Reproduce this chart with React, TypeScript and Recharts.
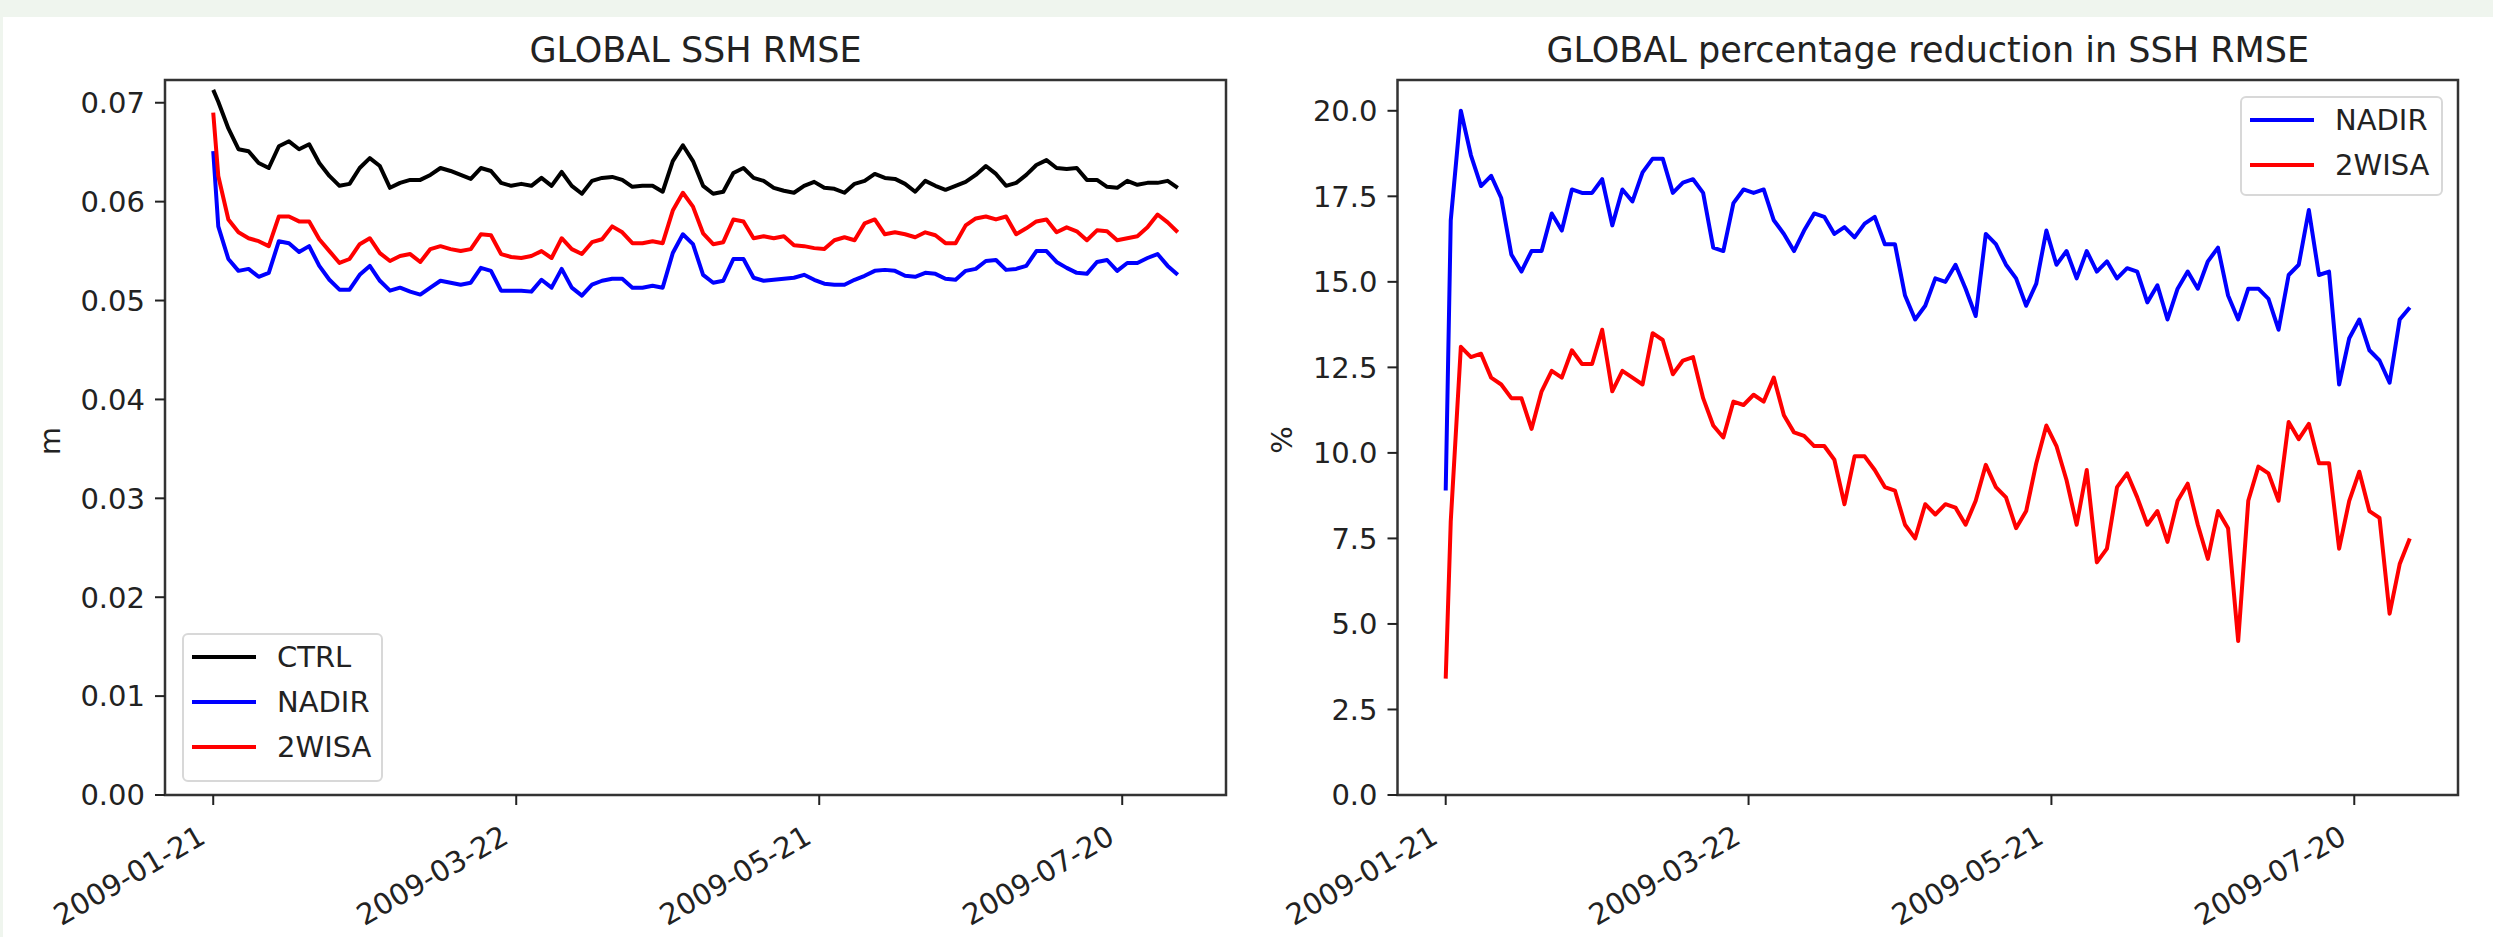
import React from "react";
import { Legend, Line, LineChart, ReferenceArea, XAxis, YAxis } from "recharts";

// day offsets from 2009-01-21 (day 0, then every second day)
const days = [
  0, 1, 3, 5, 7, 9, 11, 13, 15, 17, 19, 21, 23, 25, 27, 29, 31, 33, 35, 37, 39, 41, 43, 45, 47, 49, 51, 53, 55, 57, 59, 61, 63,
  65, 67, 69, 71, 73, 75, 77, 79, 81, 83, 85, 87, 89, 91, 93, 95, 97, 99, 101, 103, 105, 107, 109, 111, 113, 115, 117, 119, 121, 123, 125, 127,
  129, 131, 133, 135, 137, 139, 141, 143, 145, 147, 149, 151, 153, 155, 157, 159, 161, 163, 165, 167, 169, 171, 173, 175, 177, 179, 181, 183, 185, 187, 189, 191,
];

const ctrlRmse = [
  0.0713, 0.0701, 0.0674, 0.0653, 0.0651, 0.0639, 0.0634, 0.0656, 0.0661, 0.0653, 0.0658, 0.0639, 0.0626, 0.0616, 0.0618, 0.0634, 0.0644, 0.0636, 0.0614, 0.0619, 0.0622, 0.0622, 0.0627, 0.0634, 0.0631, 0.0627, 0.0623, 0.0634, 0.0631, 0.0619, 0.0616, 0.0618, 0.0616,
  0.0624, 0.0616, 0.063, 0.0616, 0.0608, 0.0621, 0.0624, 0.0625, 0.0622, 0.0615, 0.0616, 0.0616, 0.061, 0.0641, 0.0657, 0.0641, 0.0616, 0.0608, 0.061, 0.0629, 0.0634, 0.0624, 0.0621, 0.0614, 0.0611, 0.0609, 0.0616, 0.062, 0.0614, 0.0613, 0.0609, 0.0618,
  0.0621, 0.0628, 0.0624, 0.0623, 0.0618, 0.061, 0.0621, 0.0616, 0.0612, 0.0616, 0.062, 0.0627, 0.0636, 0.0628, 0.0616, 0.0619, 0.0627, 0.0637, 0.0642, 0.0634, 0.0633, 0.0634, 0.0622, 0.0622, 0.0615, 0.0614, 0.0621, 0.0617, 0.0619, 0.0619, 0.0621, 0.0614,
];

const nadirRmse = [
  0.0651, 0.0575, 0.0542, 0.053, 0.0532, 0.0524, 0.0528, 0.056, 0.0558, 0.0549, 0.0555, 0.0535, 0.0521, 0.0511, 0.0511, 0.0526, 0.0535, 0.052, 0.051, 0.0513, 0.0509, 0.0506, 0.0513, 0.052, 0.0518, 0.0516, 0.0518, 0.0533, 0.053, 0.051, 0.051, 0.051, 0.0509,
  0.0521, 0.0513, 0.0532, 0.0513, 0.0505, 0.0516, 0.052, 0.0522, 0.0522, 0.0513, 0.0513, 0.0515, 0.0513, 0.0548, 0.0567, 0.0557, 0.0526, 0.0518, 0.052, 0.0542, 0.0542, 0.0523, 0.052, 0.0521, 0.0522, 0.0523, 0.0526, 0.0521, 0.0517, 0.0516, 0.0516, 0.0521,
  0.0525, 0.053, 0.0531, 0.053, 0.0525, 0.0524, 0.0528, 0.0527, 0.0522, 0.0521, 0.053, 0.0532, 0.054, 0.0541, 0.0531, 0.0532, 0.0535, 0.055, 0.055, 0.0539, 0.0533, 0.0528, 0.0527, 0.0539, 0.0541, 0.053, 0.0538, 0.0538, 0.0543, 0.0547, 0.0535, 0.0526,
];

const wisaRmse = [
  0.069, 0.0626, 0.0582, 0.0569, 0.0563, 0.056, 0.0555, 0.0585, 0.0585, 0.058, 0.058, 0.0562, 0.055, 0.0538, 0.0542, 0.0557, 0.0563, 0.0548, 0.054, 0.0545, 0.0547, 0.0539, 0.0552, 0.0555, 0.0552, 0.055, 0.0552, 0.0567, 0.0566, 0.0547, 0.0544, 0.0543, 0.0545,
  0.055, 0.0543, 0.0563, 0.0552, 0.0547, 0.0559, 0.0562, 0.0575, 0.0569, 0.0558, 0.0558, 0.056, 0.0558, 0.0591, 0.0609, 0.0595, 0.0568, 0.0557, 0.0559, 0.0582, 0.058, 0.0563, 0.0565, 0.0563, 0.0565, 0.0556, 0.0555, 0.0553, 0.0552, 0.0561, 0.0564, 0.0561,
  0.0578, 0.0582, 0.0567, 0.0569, 0.0567, 0.0564, 0.0569, 0.0566, 0.0558, 0.0558, 0.0576, 0.0583, 0.0585, 0.0582, 0.0585, 0.0567, 0.0573, 0.058, 0.0582, 0.0569, 0.0574, 0.057, 0.0561, 0.0571, 0.057, 0.0561, 0.0563, 0.0565, 0.0574, 0.0587, 0.0579, 0.0569,
];

const nadirReduction = [
  8.9, 16.8, 20.0, 18.7, 17.8, 18.1, 17.45, 15.8, 15.3, 15.9, 15.9, 17.0, 16.5, 17.7, 17.6, 17.6, 18.0, 16.65, 17.7, 17.35, 18.2, 18.6, 18.6, 17.6, 17.9, 18.0, 17.6, 16.0, 15.9, 17.3, 17.7, 17.6, 17.7,
  16.8, 16.4, 15.9, 16.5, 17.0, 16.9, 16.4, 16.6, 16.3, 16.7, 16.9, 16.1, 16.1, 14.6, 13.9, 14.3, 15.1, 15.0, 15.5, 14.8, 14.0, 16.4, 16.1, 15.5, 15.1, 14.3, 14.95, 16.5, 15.5, 15.9, 15.1, 15.9,
  15.3, 15.6, 15.1, 15.4, 15.3, 14.4, 14.9, 13.9, 14.8, 15.3, 14.8, 15.6, 16.0, 14.6, 13.9, 14.8, 14.8, 14.5, 13.6, 15.2, 15.5, 17.1, 15.2, 15.3, 12.0, 13.35, 13.9, 13.0, 12.7, 12.05, 13.9, 14.25,
];

const wisaReduction = [
  3.4, 8.0, 13.1, 12.8, 12.9, 12.2, 12.0, 11.6, 11.6, 10.7, 11.8, 12.4, 12.2, 13.0, 12.6, 12.6, 13.6, 11.8, 12.4, 12.2, 12.0, 13.5, 13.3, 12.3, 12.7, 12.8, 11.6, 10.8, 10.45, 11.5, 11.4, 11.7, 11.5,
  12.2, 11.1, 10.6, 10.5, 10.2, 10.2, 9.8, 8.5, 9.9, 9.9, 9.5, 9.0, 8.9, 7.9, 7.5, 8.5, 8.2, 8.5, 8.4, 7.9, 8.6, 9.65, 9.0, 8.7, 7.8, 8.3, 9.7, 10.8, 10.2, 9.2, 7.9, 9.5,
  6.8, 7.2, 9.0, 9.4, 8.7, 7.9, 8.3, 7.4, 8.6, 9.1, 7.9, 6.9, 8.3, 7.8, 4.5, 8.6, 9.6, 9.4, 8.6, 10.9, 10.4, 10.85, 9.7, 9.7, 7.2, 8.6, 9.45, 8.3, 8.1, 5.3, 6.75, 7.5,
];

const dateTicks = [0, 60, 120, 180];
const dateLabels = ["2009-01-21", "2009-03-22", "2009-05-21", "2009-07-20"];
const rmseTicks = [0, 0.01, 0.02, 0.03, 0.04, 0.05, 0.06, 0.07];
const pctTicks = [0, 2.5, 5, 7.5, 10, 12.5, 15, 17.5, 20];

const rmseData = days.map((day, i) => ({
  day,
  ctrl: ctrlRmse[i],
  nadir: nadirRmse[i],
  wisa: wisaRmse[i],
}));

const pctData = days.map((day, i) => ({
  day,
  nadir: nadirReduction[i],
  wisa: wisaReduction[i],
}));

const rmseSeries = [
  { key: "ctrl", name: "CTRL", color: "#000000" },
  { key: "nadir", name: "NADIR", color: "#0000ff" },
  { key: "wisa", name: "2WISA", color: "#ff0000" },
];
const pctSeries = [
  { key: "nadir", name: "NADIR", color: "#0000ff" },
  { key: "wisa", name: "2WISA", color: "#ff0000" },
];

const FONT = "DejaVu Sans";
const TEXT = "#222";
const SPINE = { stroke: "#333", strokeWidth: 2.5 };
const xDomain = [-9.55, 200.55];
const rmseTop = 0.0723;
const pctTop = 20.9;

const DateTick = (props: any) => {
  const { x, y, payload } = props;
  const ax = x - 6;
  const ay = y + 37;
  return (
    <text
      x={ax}
      y={ay}
      transform={`rotate(-30 ${ax} ${ay})`}
      textAnchor="end"
      fontSize={29}
      fill={TEXT}
      fontFamily={FONT}
    >
      {dateLabels[dateTicks.indexOf(payload.value)]}
    </text>
  );
};

const legendBox = (series: typeof rmseSeries, width: number, height: number) => () => (
  <div
    style={{
      width,
      height,
      boxSizing: "border-box",
      border: "2px solid #d8d8d8",
      borderRadius: 6,
      background: "rgba(255,255,255,0.85)",
      position: "relative",
      fontFamily: FONT,
    }}
  >
    {series.map((s, i) => (
      <div
        key={s.key}
        style={{
          position: "absolute",
          left: 8,
          top: 22 + i * 45 - 18,
          height: 36,
          display: "flex",
          alignItems: "center",
        }}
      >
        <div style={{ width: 64, height: 4, background: s.color }} />
        <span style={{ marginLeft: 21, fontSize: 29, color: TEXT, lineHeight: "36px" }}>{s.name}</span>
      </div>
    ))}
  </div>
);

const App = () => {
  return (
    <div
      style={{
        position: "absolute",
        left: 0,
        top: 0,
        width: 2493,
        height: 937,
        background: "#fff",
        fontFamily: FONT,
        overflow: "hidden",
      }}
    >
      <div style={{ position: "absolute", left: 0, top: 0, width: 2493, height: 17, background: "#eff5ee" }} />
      <div style={{ position: "absolute", left: 0, top: 0, width: 3, height: 937, background: "#eff5ee" }} />

      {/* left panel */}
      <div style={{ position: "absolute", left: 0, top: 0 }}>
        <div
          style={{
            position: "absolute",
            left: 165,
            width: 1061,
            top: 33,
            textAlign: "center",
            fontSize: 35,
            lineHeight: "35px",
            color: TEXT,
          }}
        >
          GLOBAL SSH RMSE
        </div>
        <div
          style={{
            position: "absolute",
            left: 50,
            top: 441,
            transform: "translate(-50%, -50%) rotate(-90deg)",
            fontSize: 29,
            color: TEXT,
          }}
        >
          m
        </div>
        <LineChart width={1240} height={937} data={rmseData} margin={{ top: 80, right: 14, bottom: 42, left: 65 }}>
          <XAxis
            dataKey="day"
            type="number"
            domain={xDomain}
            ticks={dateTicks}
            interval={0}
            height={100}
            tickSize={10}
            tickMargin={0}
            axisLine={false}
            tickLine={{ stroke: "#222", strokeWidth: 2 }}
            tick={<DateTick />}
          />
          <YAxis
            type="number"
            domain={[0, rmseTop]}
            ticks={rmseTicks}
            interval={0}
            width={100}
            tickSize={10}
            tickMargin={10}
            axisLine={false}
            tickLine={{ stroke: "#222", strokeWidth: 2 }}
            tick={{ fontSize: 29, fill: TEXT, fontFamily: FONT }}
            tickFormatter={(v: number) => v.toFixed(2)}
          />
          <ReferenceArea
            x1={xDomain[0]}
            x2={xDomain[1]}
            y1={0}
            y2={rmseTop}
            fill="#fff"
            fillOpacity={0}
            stroke={SPINE.stroke}
            strokeWidth={SPINE.strokeWidth}
            ifOverflow="visible"
          />
          {rmseSeries.map((s) => (
            <Line
              key={s.key}
              type="linear"
              dataKey={s.key}
              name={s.name}
              stroke={s.color}
              strokeWidth={4}
              strokeLinejoin="round"
              dot={false}
              isAnimationActive={false}
            />
          ))}
          <Legend
            layout="vertical"
            align="center"
            verticalAlign="middle"
            wrapperStyle={{ left: 182, top: 633, width: 201, height: 149 }}
            content={legendBox(rmseSeries, 201, 149)}
          />
        </LineChart>
      </div>

      {/* right panel */}
      <div style={{ position: "absolute", left: 1240, top: 0 }}>
        <div
          style={{
            position: "absolute",
            left: 157.5,
            width: 1060.5,
            top: 33,
            textAlign: "center",
            fontSize: 35,
            lineHeight: "35px",
            color: TEXT,
            whiteSpace: "nowrap",
          }}
        >
          GLOBAL percentage reduction in SSH RMSE
        </div>
        <div
          style={{
            position: "absolute",
            left: 42,
            top: 440,
            transform: "translate(-50%, -50%) rotate(-90deg)",
            fontSize: 29,
            color: TEXT,
          }}
        >
          %
        </div>
        <LineChart width={1253} height={937} data={pctData} margin={{ top: 80, right: 35, bottom: 42, left: 57.5 }}>
          <XAxis
            dataKey="day"
            type="number"
            domain={xDomain}
            ticks={dateTicks}
            interval={0}
            height={100}
            tickSize={10}
            tickMargin={0}
            axisLine={false}
            tickLine={{ stroke: "#222", strokeWidth: 2 }}
            tick={<DateTick />}
          />
          <YAxis
            type="number"
            domain={[0, pctTop]}
            ticks={pctTicks}
            interval={0}
            width={100}
            tickSize={10}
            tickMargin={10}
            axisLine={false}
            tickLine={{ stroke: "#222", strokeWidth: 2 }}
            tick={{ fontSize: 29, fill: TEXT, fontFamily: FONT }}
            tickFormatter={(v: number) => v.toFixed(1)}
          />
          <ReferenceArea
            x1={xDomain[0]}
            x2={xDomain[1]}
            y1={0}
            y2={pctTop}
            fill="#fff"
            fillOpacity={0}
            stroke={SPINE.stroke}
            strokeWidth={SPINE.strokeWidth}
            ifOverflow="visible"
          />
          {pctSeries.map((s) => (
            <Line
              key={s.key}
              type="linear"
              dataKey={s.key}
              name={s.name}
              stroke={s.color}
              strokeWidth={4}
              strokeLinejoin="round"
              dot={false}
              isAnimationActive={false}
            />
          ))}
          <Legend
            layout="vertical"
            align="center"
            verticalAlign="middle"
            wrapperStyle={{ left: 1000, top: 96, width: 203, height: 100 }}
            content={legendBox(pctSeries, 203, 100)}
          />
        </LineChart>
      </div>
    </div>
  );
};

export default App;
